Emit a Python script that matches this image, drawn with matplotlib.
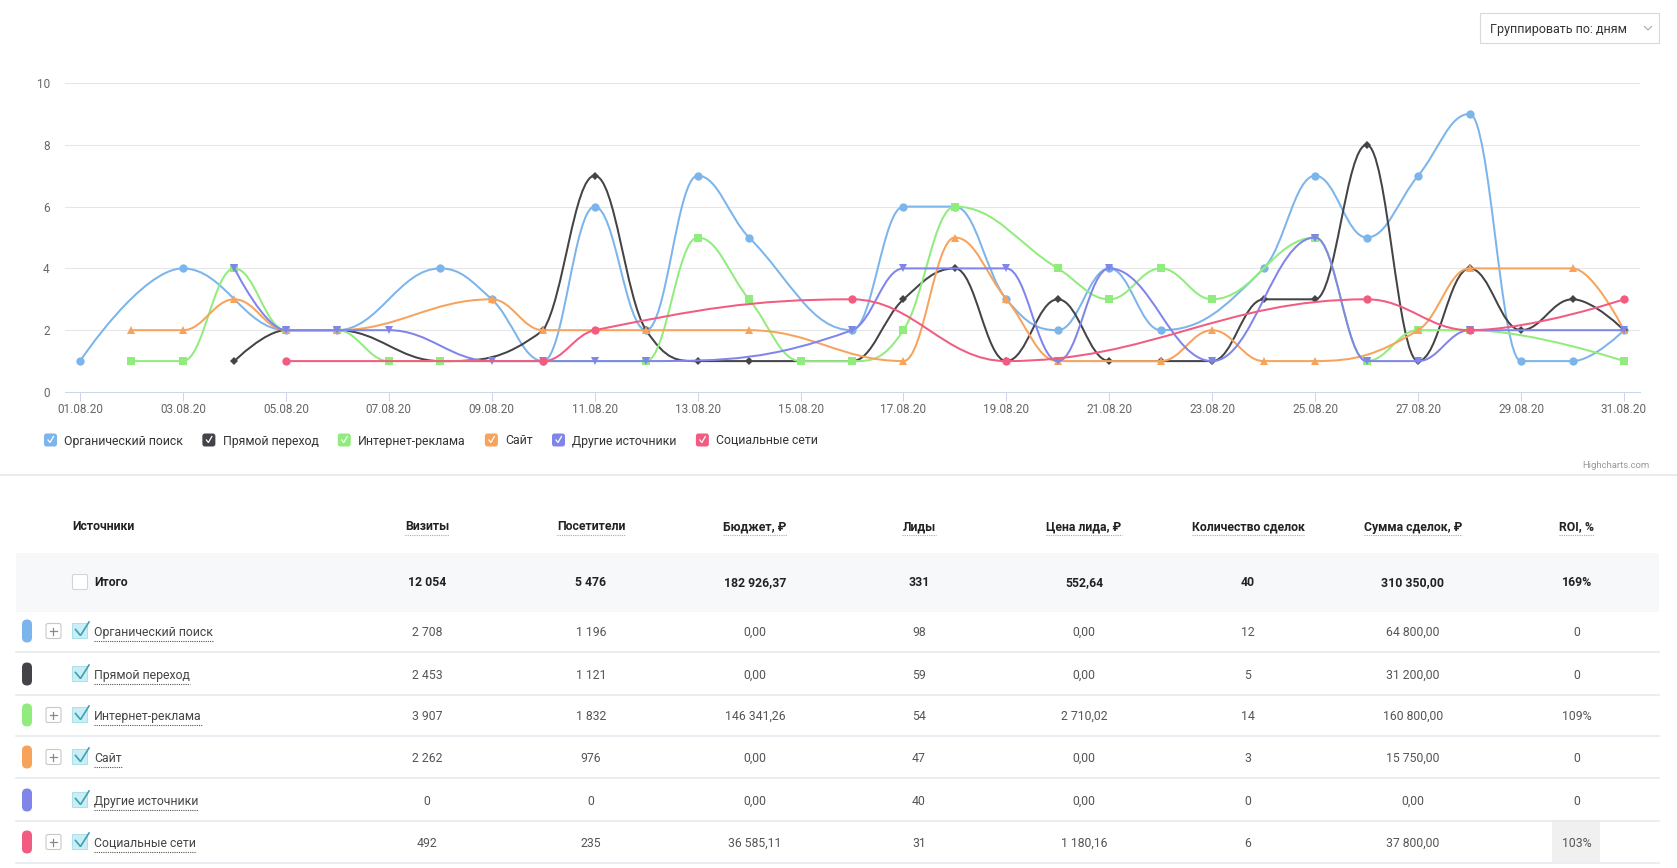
import matplotlib
matplotlib.use("Agg")
import matplotlib.pyplot as plt
from matplotlib.path import Path
from matplotlib.patches import PathPatch, FancyBboxPatch, Rectangle

plt.rcParams['font.family'] = ['Roboto', 'DejaVu Sans']

W, H = 1677, 868

# --- график: день августа -> значение
organic_days = [1, 3, 5, 6, 8, 9, 10, 11, 12, 13, 14, 16, 17, 18, 19, 20, 21, 22, 24, 25, 26, 27, 28, 29, 30, 31]
organic_vals = [1, 4, 2, 2, 4, 3, 1, 6, 2, 7, 5, 2, 6, 6, 3, 2, 4, 2, 4, 7, 5, 7, 9, 1, 1, 2]

direct_days = [4, 5, 6, 8, 10, 11, 12, 13, 14, 15, 16, 17, 18, 19, 20, 21, 22, 23, 24, 25, 26, 27, 28, 29, 30, 31]
direct_vals = [1, 2, 2, 1, 2, 7, 2, 1, 1, 1, 1, 3, 4, 1, 3, 1, 1, 1, 3, 3, 8, 1, 4, 2, 3, 2]

ads_days = [2, 3, 4, 5, 6, 7, 8, 12, 13, 14, 15, 16, 17, 18, 20, 21, 22, 23, 25, 26, 27, 28, 31]
ads_vals = [1, 1, 4, 2, 2, 1, 1, 1, 5, 3, 1, 1, 2, 6, 4, 3, 4, 3, 5, 1, 2, 2, 1]

site_days = [2, 3, 4, 5, 6, 9, 10, 12, 14, 17, 18, 19, 20, 22, 23, 24, 25, 27, 28, 30, 31]
site_vals = [2, 2, 3, 2, 2, 3, 2, 2, 2, 1, 5, 3, 1, 1, 2, 1, 1, 2, 4, 4, 2]

other_days = [4, 5, 6, 7, 9, 10, 11, 12, 16, 17, 19, 20, 21, 23, 25, 26, 27, 28, 31]
other_vals = [4, 2, 2, 2, 1, 1, 1, 1, 2, 4, 4, 1, 4, 1, 5, 1, 1, 2, 2]

social_days = [5, 10, 11, 16, 19, 26, 28, 31]
social_vals = [1, 1, 2, 3, 1, 3, 2, 3]

series_names = ["Органический поиск", "Прямой переход", "Интернет-реклама",
                "Сайт", "Другие источники", "Социальные сети"]
series_colors = ["#7cb5ec", "#434348", "#90ed7d", "#f7a35c", "#8085e9", "#f15c80"]
series_markers = ["o", "D", "s", "^", "v", "o"]
marker_sizes = [6, 4.2, 5.6, 6, 6, 6]

tick_days = [1, 3, 5, 7, 9, 11, 13, 15, 17, 19, 21, 23, 25, 27, 29, 31]
tick_labels = ["01.08.20", "03.08.20", "05.08.20", "07.08.20", "09.08.20", "11.08.20",
               "13.08.20", "15.08.20", "17.08.20", "19.08.20", "21.08.20", "23.08.20",
               "25.08.20", "27.08.20", "29.08.20", "31.08.20"]

# --- таблица
columns = ["Визиты", "Посетители", "Бюджет, ₽", "Лиды", "Цена лида, ₽",
           "Количество сделок", "Сумма сделок, ₽", "ROI, %"]
total_row = ["12 054", "5 476", "182 926,37", "331", "552,64", "40", "310 350,00", "169%"]
visits = ["2 708", "2 453", "3 907", "2 262", "0", "492"]
visitors = ["1 196", "1 121", "1 832", "976", "0", "235"]
budget = ["0,00", "0,00", "146 341,26", "0,00", "0,00", "36 585,11"]
leads = ["98", "59", "54", "47", "40", "31"]
lead_price = ["0,00", "0,00", "2 710,02", "0,00", "0,00", "1 180,16"]
deals = ["12", "5", "14", "3", "0", "6"]
deal_sum = ["64 800,00", "31 200,00", "160 800,00", "15 750,00", "0,00", "37 800,00"]
roi = ["0", "0", "109%", "0", "0", "103%"]
has_plus = [True, False, True, True, False, True]


def spline(xs, ys):
    # сглаживание как у highcharts spline
    s, d = 1.5, 2.5
    n = len(xs)
    lc = list(zip(xs, ys))
    rc = list(zip(xs, ys))
    for i in range(1, n - 1):
        px, py = xs[i], ys[i]
        lx, ly = xs[i - 1], ys[i - 1]
        nx, ny = xs[i + 1], ys[i + 1]
        lcx, lcy = (s * px + lx) / d, (s * py + ly) / d
        rcx, rcy = (s * px + nx) / d, (s * py + ny) / d
        corr = 0
        if rcx != lcx:
            corr = (rcy - lcy) * (rcx - px) / (rcx - lcx) + py - rcy
        lcy += corr
        rcy += corr
        if lcy > ly and lcy > py:
            lcy = max(ly, py); rcy = 2 * py - lcy
        elif lcy < ly and lcy < py:
            lcy = min(ly, py); rcy = 2 * py - lcy
        if rcy > ny and rcy > py:
            rcy = max(ny, py); lcy = 2 * py - rcy
        elif rcy < ny and rcy < py:
            rcy = min(ny, py); lcy = 2 * py - rcy
        lc[i] = (lcx, lcy)
        rc[i] = (rcx, rcy)
    verts = [(xs[0], ys[0])]
    codes = [Path.MOVETO]
    for i in range(1, n):
        verts += [rc[i - 1], lc[i], (xs[i], ys[i])]
        codes += [Path.CURVE4] * 3
    return Path(verts, codes)


fig = plt.figure(figsize=(W / 100, H / 100), dpi=100)
ov = fig.add_axes([0, 0, 1, 1])
ov.set_xlim(0, W)
ov.set_ylim(H, 0)
ov.axis('off')
rend = fig.canvas.get_renderer()

# --- линии
ax = fig.add_axes([65 / W, 1 - 392 / H, 1575 / W, 309 / H])
ax.patch.set_alpha(0)
all_days = [organic_days, direct_days, ads_days, site_days, other_days, social_days]
all_vals = [organic_vals, direct_vals, ads_vals, site_vals, other_vals, social_vals]
for i in range(6):
    c = series_colors[i]
    ax.add_patch(PathPatch(spline(all_days[i], all_vals[i]), fill=False, ec=c, lw=1.45,
                           zorder=3 + i, clip_on=False, joinstyle='round', capstyle='round'))
    ax.plot(all_days[i], all_vals[i], ls='none', marker=series_markers[i],
            ms=marker_sizes[i], mfc=c, mec=c, mew=0, zorder=3 + i, clip_on=False)

ax.set_xlim(0.7086, 31.311)
ax.set_ylim(0, 10)
ax.set_xticks(tick_days, tick_labels)
ax.set_yticks([0, 2, 4, 6, 8, 10])
ax.tick_params(axis='x', length=6.5, width=0.75, color='#ccd6eb', pad=1.5,
               labelsize=8.5, labelcolor='#666666')
ax.tick_params(axis='y', length=0, pad=11, labelsize=8.5, labelcolor='#666666')
ax.grid(axis='y', color='#e6e6e6', lw=0.75)
ax.set_axisbelow(True)
for sp in ['top', 'right', 'left']:
    ax.spines[sp].set_visible(False)
ax.spines['bottom'].set_color('#ccd6eb')
ax.spines['bottom'].set_linewidth(0.75)

# --- легенда
x = 44
for name, c in zip(series_names, series_colors):
    ov.add_patch(FancyBboxPatch((x, 440 - 6.5), 13, 13, boxstyle='round,pad=0,rounding_size=2.5',
                                fc=c, ec='none'))
    ov.plot([x + 4, x + 6, x + 9.5], [440, 442.5, 436.5], color='white', lw=0.9)
    t = ov.text(x + 20.5, 441, name, va='center', ha='left', fontsize=8.8, color='#333333')
    x = t.get_window_extent(rend).x1 + 19

# --- выпадающий список
ov.add_patch(Rectangle((1480, 13), 179, 30, fc='white', ec='#d9d9d9', lw=0.8))
ov.text(1490, 29, "Группировать по: дням", va='center', ha='left', fontsize=9, color='#333333')
ov.plot([1644.5, 1648, 1651.5], [26.5, 30, 26.5], color='#aaaaaa', lw=0.8)

ov.text(1650, 466, "Highcharts.com", ha='right', va='center', fontsize=6.8, color='#999999')
ov.plot([0, W], [475, 475], color='#e8e8e8', lw=1.2)

# --- таблица
fs = 8.8
col_x = [427, 591, 755, 919, 1084, 1248, 1413, 1577]
header_y = 527
ov.text(72, header_y, "Источники", fontweight='bold', fontsize=fs, va='center', color='#222222')
for cx, name in zip(col_x, columns):
    t = ov.text(cx, header_y, name, ha='center', va='center', fontweight='bold',
                fontsize=fs, color='#222222')
    bb = t.get_window_extent(rend)
    ov.plot([bb.x0, bb.x1], [header_y + 7.5, header_y + 7.5], color='#aaaaaa',
            lw=0.8, ls=(0, (1, 1)))

ov.add_patch(Rectangle((16, 553), 1643, 59, fc='#f7f8fa', ec='none'))
ov.add_patch(FancyBboxPatch((72.5, 574.5), 15, 15, boxstyle='round,pad=0,rounding_size=1.5',
                            fc='white', ec='#d4d4d4', lw=0.8))
ov.text(94, 583, "Итого", fontweight='bold', fontsize=fs, va='center', color='#222222')
for cx, v in zip(col_x, total_row):
    ov.text(cx, 583, v, ha='center', va='center', fontweight='bold', fontsize=fs, color='#222222')

row_y = [631, 674, 715, 757, 800, 842]
table_cols = [visits, visitors, budget, leads, lead_price, deals, deal_sum, roi]
ov.add_patch(Rectangle((1552, 820), 48, 42, fc='#f0f0f0', ec='none'))
for r, y in enumerate(row_y):
    ov.plot([16, 1659], [y + 21, y + 21], color='#e6ebf0', lw=1.2)
    ov.add_patch(FancyBboxPatch((22, y - 11.5), 10, 23, boxstyle='round,pad=0,rounding_size=5',
                                fc=series_colors[r], ec='none'))
    if has_plus[r]:
        ov.add_patch(FancyBboxPatch((46, y - 7.5), 15, 15, boxstyle='round,pad=0,rounding_size=2',
                                    fc='white', ec='#c8c8c8', lw=0.8))
        ov.plot([50, 57], [y, y], color='#888888', lw=0.9)
        ov.plot([53.5, 53.5], [y - 3.5, y + 3.5], color='#888888', lw=0.9)
    ov.add_patch(Rectangle((72.5, y - 8), 15, 15, fc='#c8eef6', ec='#a4dce8', lw=0.6))
    ov.plot([75.5, 80.5, 89], [y - 1.5, y + 4.5, y - 9], color='#3e9fb5', lw=1.2,
            solid_joinstyle='miter')
    t = ov.text(94, y + 1.5, series_names[r], va='center', ha='left', fontsize=fs, color='#444444')
    bb = t.get_window_extent(rend)
    ov.plot([bb.x0, bb.x1], [y + 10, y + 10], color='#555555', lw=0.8, ls=(0, (1, 1)))
    for cx, col in zip(col_x, table_cols):
        ov.text(cx, y + 1.5, col[r], ha='center', va='center', fontsize=fs, color='#555555')

fig.savefig("out.png", dpi=100)
